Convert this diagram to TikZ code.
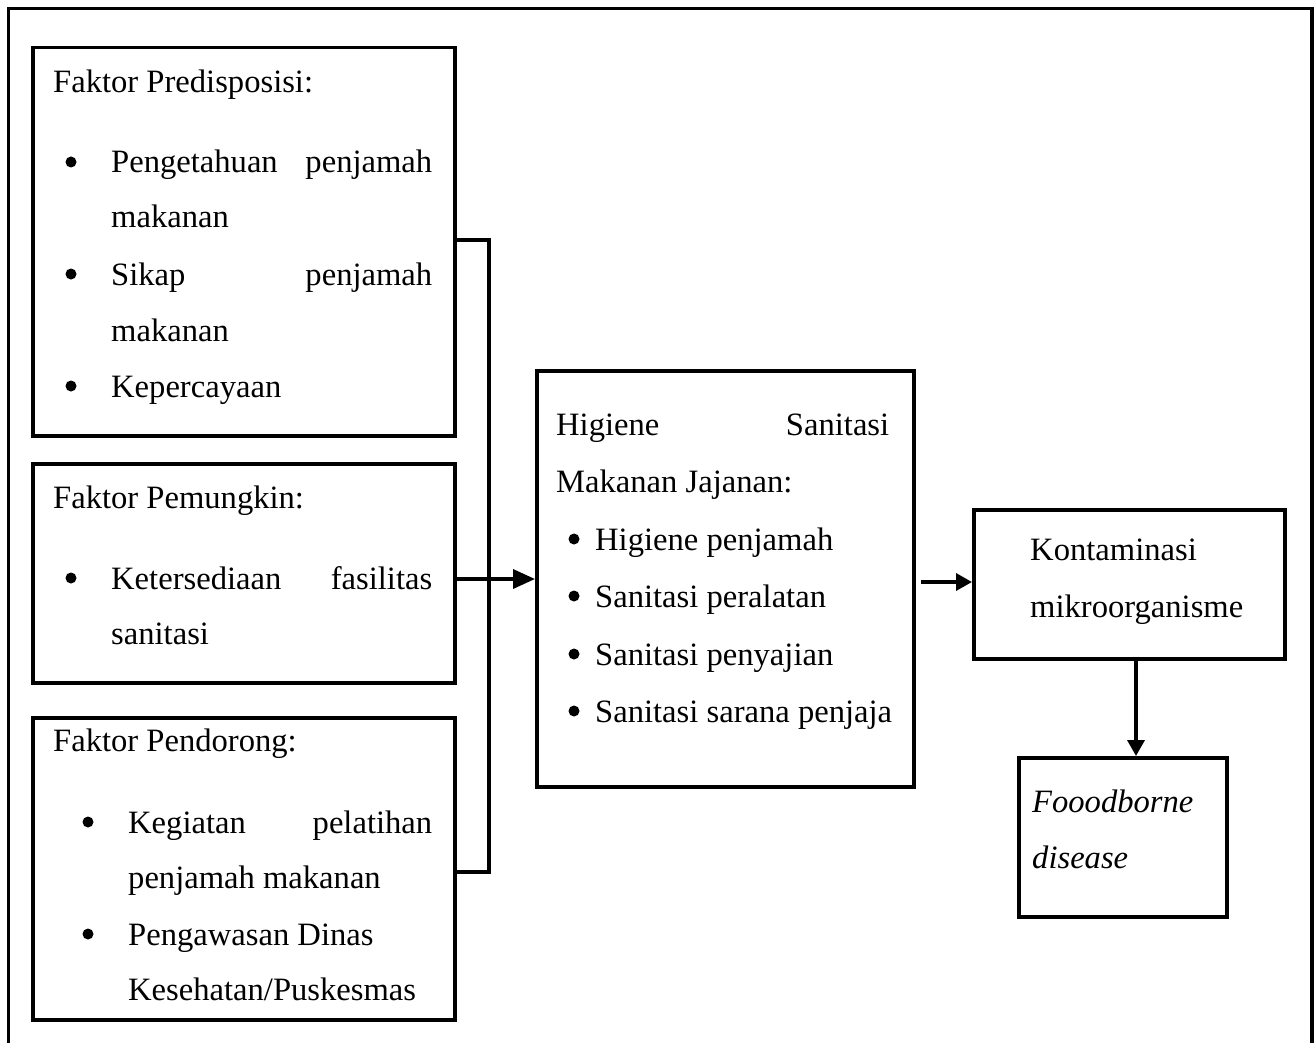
\documentclass[tikz,border=0pt]{standalone}
\usepackage{fontspec}
\setmainfont{Liberation Serif}
\usetikzlibrary{arrows.meta}
\begin{document}
\begin{tikzpicture}[x=1pt,y=-1pt,
  box/.style={draw=black,line width=3.5pt,rectangle,inner sep=0pt,anchor=north west},
  txt/.style={anchor=base west,inner sep=0pt,font=\fontsize{32.6}{40}\selectfont},
  itx/.style={txt,font=\fontsize{32.6}{40}\selectfont\itshape},
  bul/.style={circle,fill=black,inner sep=0pt,minimum size=11pt,yshift=11pt},
  line/.style={draw=black,line width=3.5pt},
  arr/.style={line,-{Triangle[length=16pt,width=17pt]}},
  arrbig/.style={line,-{Triangle[length=22pt,width=19pt]}}]
\useasboundingbox (0,0) rectangle (1314,1043);
% outer frame (open at the bottom)
\coordinate (fbl) at (8.5,1045);
\coordinate (ftl) at (8.5,8.5);
\coordinate (ftr) at (1312,8.5);
\coordinate (fbr) at (1312,1045);
\draw[line] (fbl) -- (ftl) -- (ftr) -- (fbr);
% boxes
\node[box,minimum width=422pt,minimum height=388pt] (b1) at (31,46) {};
\node[box,minimum width=422pt,minimum height=219pt] (b2) at (31,462) {};
\node[box,minimum width=422pt,minimum height=302pt] (b3) at (31,716) {};
\node[box,minimum width=377pt,minimum height=416pt] (mid) at (535,369) {};
\node[box,minimum width=311pt,minimum height=149pt] (kon) at (972,508) {};
\node[box,minimum width=208pt,minimum height=159pt] (fb) at (1017,756) {};
% box 1 text
\node[txt] (t1) at (53,93) {Faktor Predisposisi:};
\node[bul] (t1b1) at (71,173) {};
\node[txt] (t1a) at (111,173) {\makebox[321pt][s]{Pengetahuan penjamah}};
\node[txt] (t1c) at (111,228) {makanan};
\node[bul] (t1b2) at (71,285) {};
\node[txt] (t1d) at (111,285) {\makebox[321pt][s]{Sikap penjamah}};
\node[txt] (t1e) at (111,341) {makanan};
\node[bul] (t1b3) at (71,397) {};
\node[txt] (t1f) at (111,397) {Kepercayaan};
% box 2 text
\node[txt] (t2) at (53,508) {Faktor Pemungkin:};
\node[bul] (t2b1) at (71,589) {};
\node[txt] (t2a) at (111,589) {\makebox[321pt][s]{Ketersediaan fasilitas}};
\node[txt] (t2c) at (111,644) {sanitasi};
% box 3 text
\node[txt] (t3) at (53,751) {Faktor Pendorong:};
\node[bul] (t3b1) at (88,833) {};
\node[txt] (t3a) at (128,833) {\makebox[304pt][s]{Kegiatan pelatihan}};
\node[txt] (t3c) at (128,888) {penjamah makanan};
\node[bul] (t3b2) at (88,945) {};
\node[txt] (t3d) at (128,945) {Pengawasan Dinas};
\node[txt] (t3e) at (128,1000) {Kesehatan/Puskesmas};
% middle text
\node[txt] (m1) at (556,435) {\makebox[333pt][s]{Higiene Sanitasi}};
\node[txt] (m2) at (556,492) {Makanan Jajanan:};
\node[bul] (mb1) at (574,550) {};
\node[txt] (m3) at (595,550) {Higiene penjamah};
\node[bul] (mb2) at (574,607) {};
\node[txt] (m4) at (595,607) {Sanitasi peralatan};
\node[bul] (mb3) at (574,665) {};
\node[txt] (m5) at (595,665) {Sanitasi penyajian};
\node[bul] (mb4) at (574,722) {};
\node[txt] (m6) at (595,722) {Sanitasi sarana penjaja};
% right boxes text
\node[txt] (k1) at (1030,560) {Kontaminasi};
\node[txt] (k2) at (1030,617) {mikroorganisme};
\node[itx] (f1) at (1032,812) {Fooodborne};
\node[itx] (f2) at (1032,868) {disease};
% connectors
\draw[line] (b1.east |- 0,240) -- (489,240) -- (489,872) -- (b3.east |- 0,872);
\draw[arrbig] (b2.east |- 0,579) -- (mid.west |- 0,579);
\draw[arr] ([xshift=5pt]mid.east |- 0,582) -- (kon.west |- 0,582);
\draw[arr] (kon.south -| 1136,0) -- (fb.north -| 1136,0);
\end{tikzpicture}
\end{document}
